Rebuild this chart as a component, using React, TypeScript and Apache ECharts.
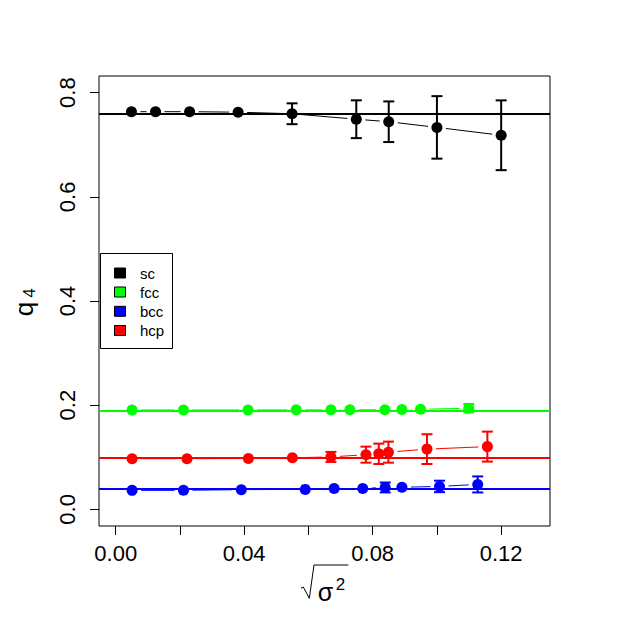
import React, { useEffect, useRef } from "react";
import * as echarts from "echarts";

// ---- data ----
const xTicks = [0, 0.02, 0.04, 0.06, 0.08, 0.1, 0.12];
const xTickLabels = [0, 0.04, 0.08, 0.12];
const yTicks = [0, 0.2, 0.4, 0.6, 0.8];

const groupNames = ["sc", "fcc", "bcc", "hcp"];
const groupColors = ["#000000", "#00FF00", "#0000FF", "#FF0000"];
const refValues = [0.76376, 0.19094, 0.03637, 0.09722];

const scX = [0.0049, 0.0124, 0.023, 0.0381, 0.0549, 0.0749, 0.085, 0.1, 0.12];
const scY = [0.7635, 0.7635, 0.7635, 0.7625, 0.7595, 0.749, 0.7442, 0.7333, 0.7182];
const scErr = [0, 0, 0, 0, 0.02, 0.0363, 0.039, 0.06, 0.067];

const fccX = [0.0051, 0.0211, 0.0412, 0.0562, 0.067, 0.0729, 0.0838, 0.0891, 0.0949, 0.1099];
const fccY = [0.1909, 0.1909, 0.1909, 0.191, 0.1911, 0.1912, 0.1913, 0.1915, 0.192, 0.1942];
const fccErr = [0, 0, 0, 0, 0, 0, 0, 0, 0, 0.008];

const bccX = [0.0051, 0.0211, 0.0391, 0.059, 0.068, 0.0769, 0.0839, 0.0891, 0.1008, 0.1127];
const bccY = [0.0364, 0.0365, 0.0378, 0.0383, 0.0398, 0.0402, 0.042, 0.0423, 0.044, 0.0478];
const bccErr = [0, 0, 0, 0, 0, 0, 0.0095, 0, 0.011, 0.0154];

const hcpX = [0.0051, 0.0222, 0.0413, 0.055, 0.067, 0.0779, 0.0819, 0.0849, 0.0969, 0.1157];
const hcpY = [0.0972, 0.0972, 0.0975, 0.099, 0.1006, 0.105, 0.1066, 0.1098, 0.1156, 0.1204];
const hcpErr = [0, 0, 0, 0, 0.0096, 0.0154, 0.0196, 0.0202, 0.0286, 0.0288];

const groupX = [scX, fccX, bccX, hcpX];
const groupY = [scY, fccY, bccY, hcpY];
const groupErr = [scErr, fccErr, bccErr, hcpErr];

const FONT = "Liberation Sans, Arial, sans-serif";

export default function App() {
  const ref = useRef<HTMLDivElement>(null);

  useEffect(() => {
    if (!ref.current) return;
    const chart = echarts.init(ref.current, undefined, { renderer: "svg" });

    const series: any[] = [];
    groupNames.forEach((name, g) => {
      const color = groupColors[g];
      const xs = groupX[g];
      const ys = groupY[g];
      const es = groupErr[g];

      // connecting segments with gaps (type = "b")
      const segs: number[][] = [];
      for (let i = 1; i < xs.length; i++) segs.push([xs[i - 1], ys[i - 1], xs[i], ys[i]]);
      series.push({
        type: "custom",
        name: name + "-lines",
        silent: true,
        data: segs,
        renderItem: (_p: any, api: any) => {
          const a = api.coord([api.value(0), api.value(1)]);
          const b = api.coord([api.value(2), api.value(3)]);
          const dx = b[0] - a[0];
          const dy = b[1] - a[1];
          const len = Math.sqrt(dx * dx + dy * dy);
          const gap = 9;
          if (len <= 2 * gap) return null;
          const ux = dx / len, uy = dy / len;
          return {
            type: "line",
            shape: { x1: a[0] + ux * gap, y1: a[1] + uy * gap, x2: b[0] - ux * gap, y2: b[1] - uy * gap },
            style: { stroke: color, lineWidth: 1 },
          };
        },
        z: 2,
      });

      // error bars
      const errs: number[][] = [];
      for (let i = 0; i < xs.length; i++) if (es[i] > 0) errs.push([xs[i], ys[i] - es[i], ys[i] + es[i]]);
      series.push({
        type: "custom",
        name: name + "-err",
        silent: true,
        data: errs,
        renderItem: (_p: any, api: any) => {
          const lo = api.coord([api.value(0), api.value(1)]);
          const hi = api.coord([api.value(0), api.value(2)]);
          const w = 5.5;
          const st = { stroke: color, lineWidth: 2 };
          return {
            type: "group",
            children: [
              { type: "line", shape: { x1: lo[0], y1: lo[1], x2: hi[0], y2: hi[1] }, style: st },
              { type: "line", shape: { x1: lo[0] - w, y1: lo[1], x2: lo[0] + w, y2: lo[1] }, style: st },
              { type: "line", shape: { x1: hi[0] - w, y1: hi[1], x2: hi[0] + w, y2: hi[1] }, style: st },
            ],
          };
        },
        z: 3,
      });

      // points + reference line
      series.push({
        type: "scatter",
        name,
        symbol: "circle",
        symbolSize: 11,
        itemStyle: { color, opacity: 1 },
        data: xs.map((x, i) => [x, ys[i]]),
        silent: true,
        z: 4,
        markLine: {
          silent: true,
          symbol: ["none", "none"],
          label: { show: false },
          lineStyle: { color, width: 2, type: "solid" },
          data: [{ yAxis: refValues[g] }],
          z: 1,
        },
      });
    });

    // legend via graphic
    const legendChildren: any[] = [
      {
        type: "rect",
        shape: { x: 100.5, y: 253.5, width: 72, height: 95 },
        style: { fill: "#ffffff", stroke: "#000000", lineWidth: 1 },
      },
    ];
    const rowY = [273, 292, 311.3, 330.5];
    groupNames.forEach((name, g) => {
      legendChildren.push({
        type: "rect",
        shape: { x: 114.5, y: rowY[g] - 5, width: 11, height: 10 },
        style: { fill: groupColors[g], stroke: "#000000", lineWidth: 1 },
      });
      legendChildren.push({
        type: "text",
        x: 140,
        y: rowY[g],
        style: {
          text: name,
          fontSize: 15,
          fontFamily: FONT,
          fill: "#000000",
          align: "left",
          verticalAlign: "middle",
        },
      });
    });

    const graphic: any[] = [
      { type: "group", children: legendChildren, z: 10 },
      // y axis title q_4
      {
        type: "text",
        x: 23.7,
        y: 309,
        rotation: Math.PI / 2,
        style: { text: "q", fontSize: 26, fontFamily: FONT, fill: "#000", align: "center", verticalAlign: "middle" },
      },
      {
        type: "text",
        x: 29.4,
        y: 293,
        rotation: Math.PI / 2,
        style: { text: "4", fontSize: 17, fontFamily: FONT, fill: "#000", align: "center", verticalAlign: "middle" },
      },
      // x axis title sqrt(sigma^2)
      {
        type: "polyline",
        shape: {
          points: [
            [301, 588.3],
            [303.3, 587],
            [309.3, 598.3],
            [314, 565],
            [348.3, 565],
          ],
        },
        style: { stroke: "#000", lineWidth: 1, fill: null },
      },
      {
        type: "text",
        x: 325.5,
        y: 591.5,
        style: { text: "σ", fontSize: 25, fontFamily: FONT, fill: "#000", align: "center", verticalAlign: "middle" },
      },
      {
        type: "text",
        x: 340.5,
        y: 584,
        style: { text: "2", fontSize: 17, fontFamily: FONT, fill: "#000", align: "center", verticalAlign: "middle" },
      },
    ];

    chart.setOption({
      animation: false,
      backgroundColor: "#ffffff",
      grid: {
        left: 99,
        top: 76,
        width: 451,
        height: 450,
        show: true,
        borderColor: "#000000",
        borderWidth: 1,
        backgroundColor: "transparent",
        containLabel: false,
        outerBoundsMode: "none",
      },
      xAxis: {
        type: "value",
        position: "bottom",
        min: -0.0052,
        max: 0.1352,
        splitLine: { show: false },
        axisLine: { show: false, onZero: false },
        axisTick: {
          show: true,
          inside: false,
          length: 9,
          customValues: xTicks,
          lineStyle: { color: "#000", width: 1 },
        },
        axisLabel: {
          show: true,
          customValues: xTickLabels,
          margin: 16,
          fontSize: 22,
          fontFamily: FONT,
          color: "#000",
          formatter: (v: number) => v.toFixed(2),
        },
      },
      yAxis: {
        type: "value",
        position: "left",
        min: -0.032,
        max: 0.832,
        splitLine: { show: false },
        axisLine: { show: false, onZero: false },
        axisTick: {
          show: true,
          inside: false,
          length: 9,
          customValues: yTicks,
          lineStyle: { color: "#000", width: 1 },
        },
        axisLabel: {
          show: true,
          customValues: yTicks,
          rotate: 90,
          margin: 21,
          fontSize: 22,
          fontFamily: FONT,
          color: "#000",
          formatter: (v: number) => v.toFixed(1),
        },
      },
      series,
      graphic,
    });

    return () => chart.dispose();
  }, []);

  return (
    <div
      ref={ref}
      style={{ position: "absolute", left: 0, top: 0, width: 627, height: 626 }}
    />
  );
}
